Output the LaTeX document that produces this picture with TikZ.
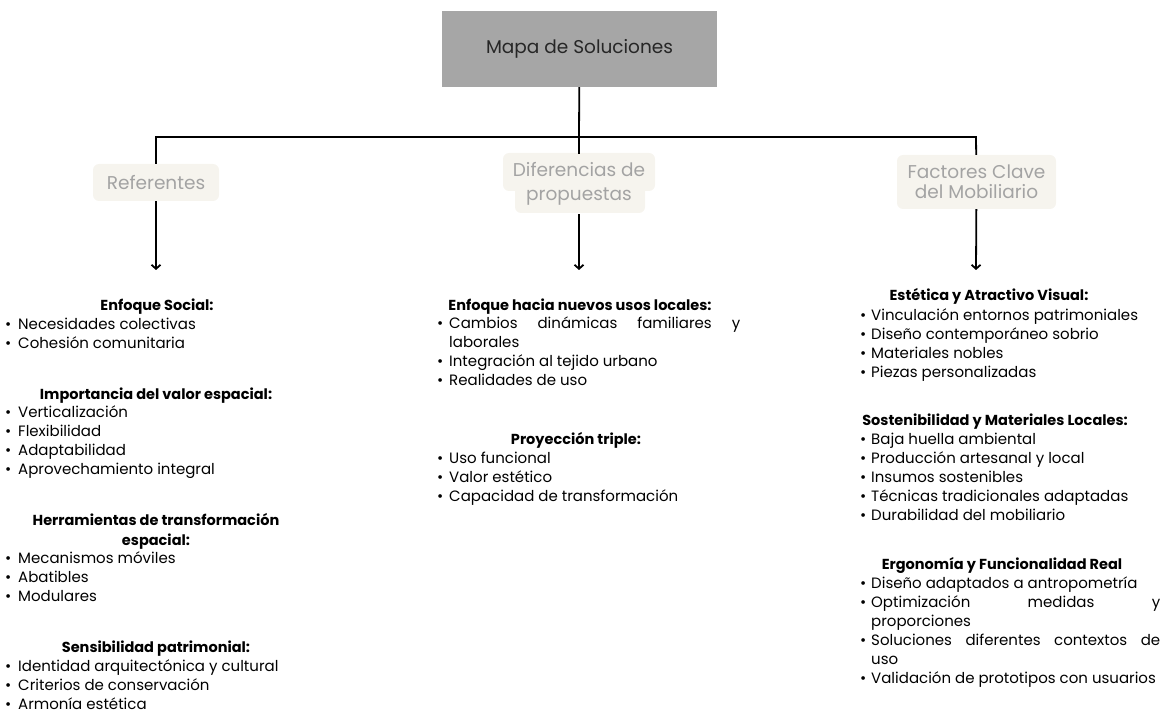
\documentclass[tikz,border=0pt]{standalone}
\usepackage{fontspec}
\setmainfont{Poppins}
\usetikzlibrary{arrows.meta}

\definecolor{boxgray}{HTML}{A6A6A6}
\definecolor{cream}{HTML}{F6F4EE}
\definecolor{catgray}{HTML}{A3A3A3}

\newlength{\bulind}
\newcommand{\bul}[1]{\hangindent=\bulind\hangafter=1\noindent\makebox[\bulind][l]{\textbullet}#1\par}

\begin{document}
\begin{tikzpicture}
  [x=1pt,y=-1pt,
   title/.style={fill=boxgray,minimum width=275pt,minimum height=76pt,inner sep=0pt,
     font=\fontsize{18.5}{22}\selectfont,text=black!85},
   cat/.style={fill=cream,rounded corners=6pt,text=catgray,align=center,inner sep=0pt,
     font=\fontsize{18.5}{20}\selectfont},
   head/.style={anchor=base,align=center,inner sep=0pt,font=\fontsize{14.5}{20}\selectfont\bfseries},
   items/.style={anchor=base west,inner sep=0pt,text width=300pt,align=justify,
     font=\fontsize{15}{19}\selectfont,
     execute at begin node={\hyphenpenalty=10000\relax\tolerance=9999\relax}},
   link/.style={line width=1.8pt,black}]
  \useasboundingbox (0,0) rectangle (1164,711);

  \node[title] (map) at (579.5,49) {Mapa de Soluciones};

  \coordinate (spL) at (156,137);
  \coordinate (spM) at (579,137);
  \coordinate (spR) at (976,137);
  \coordinate (tipL) at (156,270);
  \coordinate (tipM) at (579,270);
  \coordinate (tipR) at (976,270);

  % categories
  \node[cat,minimum width=126pt,minimum height=37pt] (ref) at (156,182.5) {Referentes};
  \fill[cream,rounded corners=6pt] (503,153) rectangle (655,191);
  \fill[cream,rounded corners=6pt] (515,184) rectangle (645,213);
  \node[cat,fill=none,minimum width=152pt,minimum height=60pt,
    font=\fontsize{18.5}{24}\selectfont] (dif) at (579,184) {Diferencias de\\propuestas};
  \node[cat,minimum width=159pt,minimum height=54pt] (fac) at (976.5,182) {Factores Clave\\del Mobiliario};

  \draw[link] (map) -- (spM);
  \draw[link,line cap=rect] (spL) -- (spR);
  \draw[link] (spL) -- (ref);
  \draw[link] (spM) -- (dif);
  \draw[link] (spR) -- (fac);
  \draw[link,-{Straight Barb[length=4pt,width=9pt]}] (ref) -- (tipL);
  \draw[link,-{Straight Barb[length=4pt,width=9pt]}] (dif) -- (tipM);
  \draw[link,-{Straight Barb[length=4pt,width=9pt]}] (fac) -- (tipR);

  % Referentes
  \setlength{\bulind}{13pt}
  \node[head] (h1) at (157,310) {Enfoque Social:};
  \node[items] (l1) at (5,329) {\bul{Necesidades colectivas}\bul{Cohesión comunitaria}};
  \node[head] (h2) at (156,399) {Importancia del valor espacial:};
  \node[items] (l2) at (5,417) {\bul{Verticalización}\bul{Flexibilidad}\bul{Adaptabilidad}\bul{Aprovechamiento integral}};
  \node[head] (h3) at (156,545) {Herramientas de transformación\\espacial:};
  \node[items] (l3) at (5,563) {\bul{Mecanismos móviles}\bul{Abatibles}\bul{Modulares}};
  \node[head] (h4) at (156,652) {Sensibilidad patrimonial:};
  \node[items] (l4) at (5,671) {\bul{Identidad arquitectónica y cultural}\bul{Criterios de conservación}\bul{Armonía estética}};

  % Diferencias de propuestas
  \setlength{\bulind}{12pt}
  \node[head] (h5) at (580,310) {Enfoque hacia nuevos usos locales:};
  \node[items,text width=303pt] (l5) at (437,328) {\bul{Cambios dinámicas familiares y\linebreak laborales}\bul{Integración al tejido urbano}\bul{Realidades de uso}};
  \node[head] (h6) at (576,444) {Proyección triple:};
  \node[items,text width=303pt] (l6) at (437,463) {\bul{Uso funcional}\bul{Valor estético}\bul{Capacidad de transformación}};

  % Factores Clave del Mobiliario
  \setlength{\bulind}{11pt}
  \node[head] (h7) at (989,301) {Estética y Atractivo Visual:};
  \node[items] (l7) at (860,320) {\bul{Vinculación entornos patrimoniales}\bul{Diseño contemporáneo sobrio}\bul{Materiales nobles}\bul{Piezas personalizadas}};
  \node[head] (h8) at (995,425) {Sostenibilidad y Materiales Locales:};
  \node[items] (l8) at (860,444) {\bul{Baja huella ambiental}\bul{Producción artesanal y local}\bul{Insumos sostenibles}\bul{Técnicas tradicionales adaptadas}\bul{Durabilidad del mobiliario}};
  \node[head] (h9) at (1002,569) {Ergonomía y Funcionalidad Real};
  \node[items] (l9) at (860,588) {\bul{Diseño adaptados a antropometría}\bul{Optimización medidas y\linebreak proporciones}\bul{Soluciones diferentes contextos de\linebreak uso}\bul{Validación de prototipos con usuarios}};
\end{tikzpicture}
\end{document}
